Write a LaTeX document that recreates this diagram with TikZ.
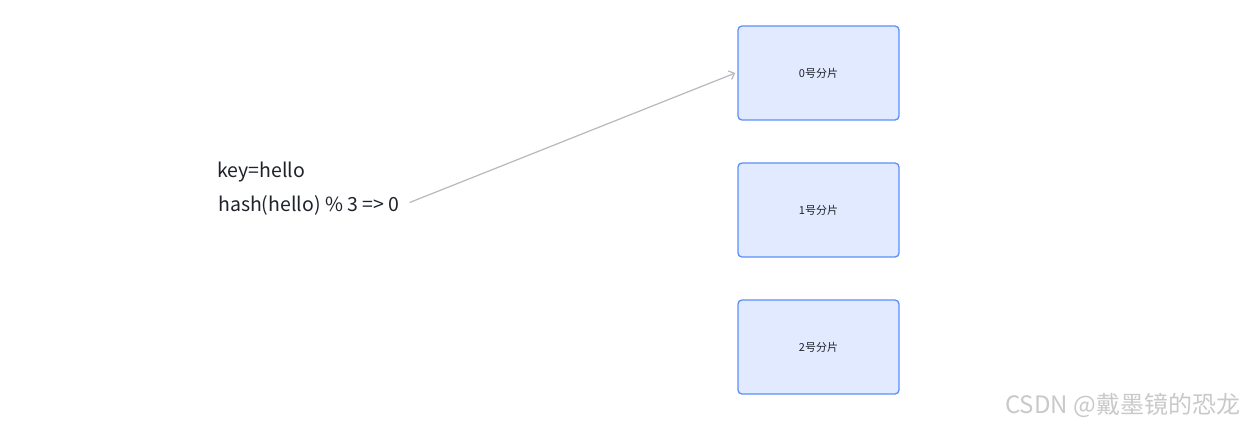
\documentclass[tikz,border=0pt]{standalone}
\usepackage{fontspec}
\setmainfont{Noto Sans CJK SC}
\newfontfamily\cjk{Noto Sans CJK SC}
\usetikzlibrary{arrows.meta}
\definecolor{boxfill}{HTML}{E1EAFF}
\definecolor{boxline}{HTML}{5B8FF9}
\definecolor{txt}{HTML}{1F2329}
\definecolor{arrowc}{HTML}{B5B9BE}
\definecolor{wm}{HTML}{C9C9C9}
\tikzset{
  shard/.style={draw=boxline, line width=1.3pt, fill=boxfill, rounded corners=4pt,
    minimum width=161pt, minimum height=94pt, inner sep=0pt,
    font=\cjk\fontsize{11}{13}\selectfont, text=txt},
  label/.style={anchor=west, inner sep=0pt, font=\cjk\fontsize{19.5}{22}\selectfont, text=txt},
  link/.style={draw=arrowc, line width=1.2pt, -{Straight Barb[length=5pt,width=9pt]}},
}
\begin{document}
\begin{tikzpicture}[x=1pt,y=-1pt]
\useasboundingbox (0,0) rectangle (1240,424);
\node[shard] (s0) at (818.5,73) {0号分片};
\node[shard] (s1) at (818.5,210) {1号分片};
\node[shard] (s2) at (818.5,347) {2号分片};
\node[label] (k) at (217,172.5) {key=hello};
\node[label] (h) at (218,205.5) {hash(hello) \% 3 => 0};
\draw[link] ([xshift=10pt,yshift=3pt]h.east) -- ([xshift=-2pt]s0.west);
\node[anchor=west, inner sep=0pt, text=wm, font=\cjk\fontsize{24}{26}\selectfont] (wmk) at (1005,405) {CSDN @戴墨镜的恐龙};
\end{tikzpicture}
\end{document}
